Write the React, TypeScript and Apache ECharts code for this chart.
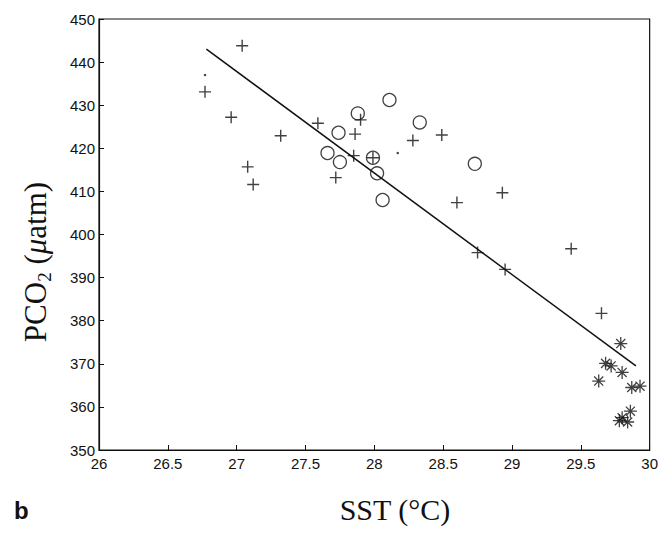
import React, { useEffect, useRef } from "react";
import * as echarts from "echarts";

// Data
const plusSST = [27.04, 26.77, 26.96, 27.32, 27.08, 27.12, 27.59, 27.9, 27.86, 27.72, 27.85, 27.99, 28.28, 28.49, 28.93, 28.6, 28.75, 28.95, 29.43, 29.65];
const plusPCO2 = [443.8, 433.1, 427.2, 422.9, 415.7, 411.6, 425.8, 426.6, 423.3, 413.2, 418.3, 417.8, 421.8, 423.1, 409.7, 407.4, 395.8, 391.9, 396.7, 381.7];

const circleSST = [28.11, 28.33, 27.88, 27.74, 27.66, 27.75, 27.99, 28.02, 28.73, 28.06];
const circlePCO2 = [431.2, 426.0, 428.1, 423.6, 418.9, 416.8, 417.8, 414.2, 416.4, 408.0];

const starSST = [29.79, 29.68, 29.72, 29.8, 29.63, 29.87, 29.93, 29.86, 29.8, 29.84, 29.78];
const starPCO2 = [374.7, 370.1, 369.5, 368.0, 366.0, 364.5, 364.8, 359.0, 357.5, 356.5, 356.8];

const dotSST = [26.77, 28.17];
const dotPCO2 = [437.0, 418.9];

const fitSST = [26.78, 29.9];
const fitPCO2 = [443.0, 369.5];

const xTicks = { min: 26, max: 30, interval: 0.5 };
const yTicks = { min: 350, max: 450, interval: 10 };

const zip = (a: number[], b: number[]) => a.map((v, i) => [v, b[i]]);

const INK = "#111";
const PLUS = "path://M5,0L5,10M0,5L10,5";
const STAR = "path://M5,0L5,10M0,5L10,5M1.5,1.5L8.5,8.5M8.5,1.5L1.5,8.5";

export default function App() {
  const ref = useRef<HTMLDivElement>(null);
  useEffect(() => {
    if (!ref.current) return;
    const chart = echarts.init(ref.current, undefined, { renderer: "svg" });
    const tickLabel = { fontFamily: "Liberation Sans", fontSize: 15, color: INK };
    chart.setOption({
      animation: false,
      backgroundColor: "#fff",
      grid: { left: 99, right: 8, top: 19, bottom: 87, show: true, borderColor: INK, borderWidth: 1.2, backgroundColor: "transparent" },
      xAxis: {
        type: "value",
        ...xTicks,
        axisLine: { show: true, lineStyle: { color: INK, width: 1.2 } },
        axisTick: { show: true, inside: true, length: 5, lineStyle: { color: INK } },
        axisLabel: { ...tickLabel, margin: 6 },
        splitLine: { show: false },
      },
      yAxis: {
        type: "value",
        ...yTicks,
        axisLine: { show: true, lineStyle: { color: INK, width: 1.2 } },
        axisTick: { show: true, inside: true, length: 5, lineStyle: { color: INK } },
        axisLabel: { ...tickLabel, margin: 4 },
        splitLine: { show: false },
      },
      series: [
        {
          type: "line",
          data: zip(fitSST, fitPCO2),
          symbol: "none",
          lineStyle: { color: INK, width: 1.5 },
          z: 2,
        },
        {
          type: "scatter",
          data: zip(plusSST, plusPCO2),
          symbol: PLUS,
          symbolSize: 12,
          itemStyle: { color: "none", borderColor: INK, borderWidth: 1.4 },
          z: 3,
        },
        {
          type: "scatter",
          data: zip(circleSST, circlePCO2),
          symbol: "circle",
          symbolSize: 13,
          itemStyle: { color: "rgba(0,0,0,0)", borderColor: INK, borderWidth: 1.3 },
          z: 3,
        },
        {
          type: "scatter",
          data: zip(starSST, starPCO2),
          symbol: STAR,
          symbolSize: 13,
          itemStyle: { color: "none", borderColor: INK, borderWidth: 1.3 },
          z: 3,
        },
        {
          type: "scatter",
          data: zip(dotSST, dotPCO2),
          symbol: "circle",
          symbolSize: 2.5,
          itemStyle: { color: INK },
          z: 3,
        },
      ],
      graphic: [
        {
          type: "text",
          x: 35,
          y: 262,
          rotation: Math.PI / 2,
          style: {
            text: "{a|PCO}{s|2}{a| (}{i|μ}{a|atm)}",
            align: "center",
            verticalAlign: "middle",
            fill: INK,
            rich: {
              a: { fontFamily: "Liberation Serif", fontSize: 31, lineHeight: 38, fill: INK },
              i: { fontFamily: "Liberation Serif", fontStyle: "italic", fontSize: 31, lineHeight: 38, fill: INK },
              s: { fontFamily: "Liberation Serif", fontSize: 19, lineHeight: 18, verticalAlign: "bottom", fill: INK },
            },
          },
        },
        {
          type: "text",
          x: 395,
          y: 509,
          style: {
            text: "SST (°C)",
            font: '30px "Liberation Serif"',
            align: "center",
            verticalAlign: "middle",
            fill: INK,
          },
        },
        {
          type: "text",
          x: 14,
          y: 510,
          style: {
            text: "b",
            font: 'bold 24px "Liberation Sans"',
            align: "left",
            verticalAlign: "middle",
            fill: INK,
          },
        },
      ],
    });
    return () => chart.dispose();
  }, []);
  return <div ref={ref} style={{ position: "absolute", left: 0, top: 0, width: 661, height: 537 }} />;
}
